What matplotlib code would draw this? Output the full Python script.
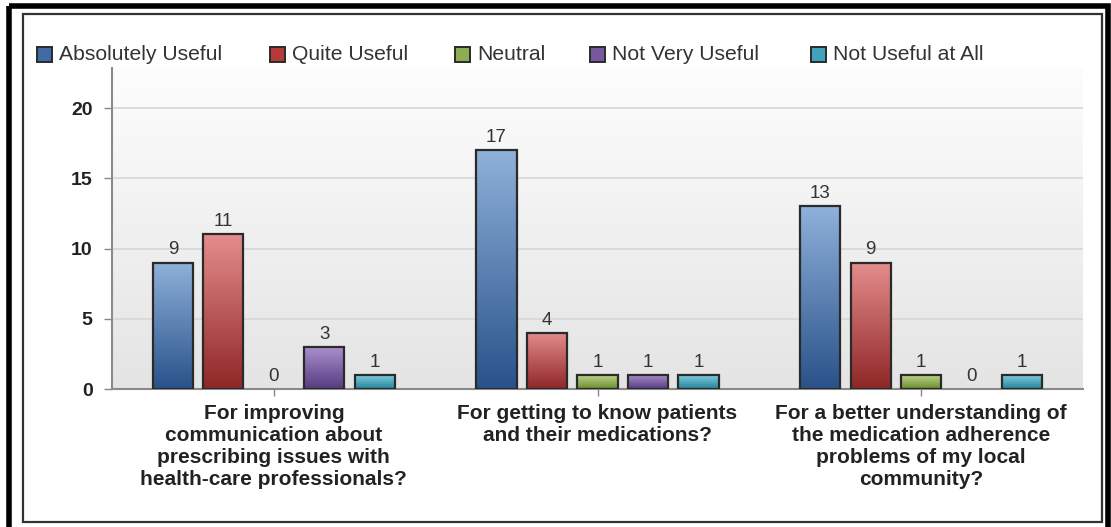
import numpy as np
import matplotlib
matplotlib.use("Agg")
import matplotlib.pyplot as plt
from matplotlib.colors import LinearSegmentedColormap
from matplotlib.patches import Rectangle

plt.rcParams['font.family'] = ['Liberation Sans', 'DejaVu Sans']

# ---- data -------------------------------------------------------------
categories = [
    "For improving\ncommunication about\nprescribing issues with\nhealth-care professionals?",
    "For getting to know patients\nand their medications?",
    "For a better understanding of\nthe medication adherence\nproblems of my local\ncommunity?",
]
series_names = ["Absolutely Useful", "Quite Useful", "Neutral",
                "Not Very Useful", "Not Useful at All"]
absolutely_useful = [9, 17, 13]
quite_useful = [11, 4, 9]
neutral = [0, 1, 1]
not_very_useful = [3, 1, 0]
not_useful_at_all = [1, 1, 1]
series_values = [absolutely_useful, quite_useful, neutral,
                 not_very_useful, not_useful_at_all]
y_ticks = [0, 5, 10, 15, 20]

# ---- styling ----------------------------------------------------------
# (light top, dark bottom, legend swatch)
palette = [
    ("#8fb1da", "#29528a", "#3f6aa3"),
    ("#e58d8d", "#8f2626", "#b53b3b"),
    ("#c2d98f", "#6a8c2e", "#8dad52"),
    ("#ab92cf", "#553a80", "#77589f"),
    ("#86d2e3", "#23829a", "#3ea3bb"),
]
edge_col = "#2a2a2a"

W, H = 1111, 527
fig = plt.figure(figsize=(W / 100, H / 100), dpi=100)
fig.patch.set_facecolor("white")

# pixel-space overlay for frame lines and legend
ov = fig.add_axes([0, 0, 1, 1], zorder=0)
ov.set_xlim(0, W)
ov.set_ylim(H, 0)
ov.axis("off")
ov.add_patch(Rectangle((8.5, 6), 1099.5, 560, fill=False, lw=4, ec="black"))
ov.add_patch(Rectangle((23, 13.5), 1079, 508.5, fill=False, lw=1.6, ec="#333333"))

# plot panel
x0, x1, ybot, ytop = 112, 1083, 389, 68
ax = fig.add_axes([x0 / W, 1 - ybot / H, (x1 - x0) / W, (ybot - ytop) / H], zorder=1)
ax.set_facecolor("none")
ax.set_xlim(-0.5, len(categories) - 0.5)
ax.set_ylim(0, 22.85)

# background gradient of the panel
bg = np.linspace(0, 1, 256).reshape(-1, 1)
bg_cmap = LinearSegmentedColormap.from_list("bg", ["#e4e4e4", "#fdfdfd"])
ax.imshow(bg, cmap=bg_cmap, extent=[0, 1, 0, 1], transform=ax.transAxes,
          aspect="auto", origin="lower", zorder=0)

for yv in y_ticks[1:]:
    ax.axhline(yv, color="#d6d6d6", lw=1.2, zorder=1)

n = len(series_names)
step = 0.156
width = 0.124
xc = np.arange(len(categories))
grad = np.linspace(0, 1, 256).reshape(-1, 1)

for i, (name, vals) in enumerate(zip(series_names, series_values)):
    light, dark, _ = palette[i]
    cmap = LinearSegmentedColormap.from_list(name, [dark, light])
    xs = xc + (i - (n - 1) / 2) * step
    bars = ax.bar(xs, vals, width=width, facecolor="none", edgecolor=edge_col,
                  lw=1.6, zorder=3)
    for b, v in zip(bars, vals):
        if v > 0:
            im = ax.imshow(grad, cmap=cmap, origin="lower", aspect="auto",
                           extent=[b.get_x(), b.get_x() + b.get_width(), 0, v],
                           zorder=2.5)
            im.set_clip_path(b)
        else:
            b.set_linewidth(0)
        ax.annotate(str(v), (b.get_x() + b.get_width() / 2, v),
                    xytext=(0, 3), textcoords="offset points",
                    ha="center", va="bottom", fontsize=13.5, color="#333333",
                    zorder=4)

ax.set_xticks(xc)
ax.set_xticklabels(categories, fontsize=15, fontweight="bold",
                   color="#222222", linespacing=1.2, va="top")
ax.set_yticks(y_ticks)
ax.set_yticklabels([str(t) for t in y_ticks], fontsize=14,
                   fontweight="bold", color="#222222")
ax.tick_params(axis="y", length=6, width=1, color="#888888", pad=8)
ax.tick_params(axis="x", length=5, width=1, color="#888888", pad=6)
for side in ("top", "right"):
    ax.spines[side].set_visible(False)
for side in ("left", "bottom"):
    ax.spines[side].set_color("#8a8a8a")
    ax.spines[side].set_linewidth(1.5)
ax.set_xlim(-0.5, len(categories) - 0.5)

# legend row
leg_x = [37, 270, 455, 590, 811]
leg_y = 54
for i, name in enumerate(series_names):
    ov.add_patch(Rectangle((leg_x[i], leg_y - 7.5), 15, 15,
                           facecolor=palette[i][2], edgecolor=edge_col, lw=1.4))
    ov.text(leg_x[i] + 22, leg_y, name, fontsize=15.2, color="#333333",
            ha="left", va="center")

fig.savefig("out.png", dpi=100)
